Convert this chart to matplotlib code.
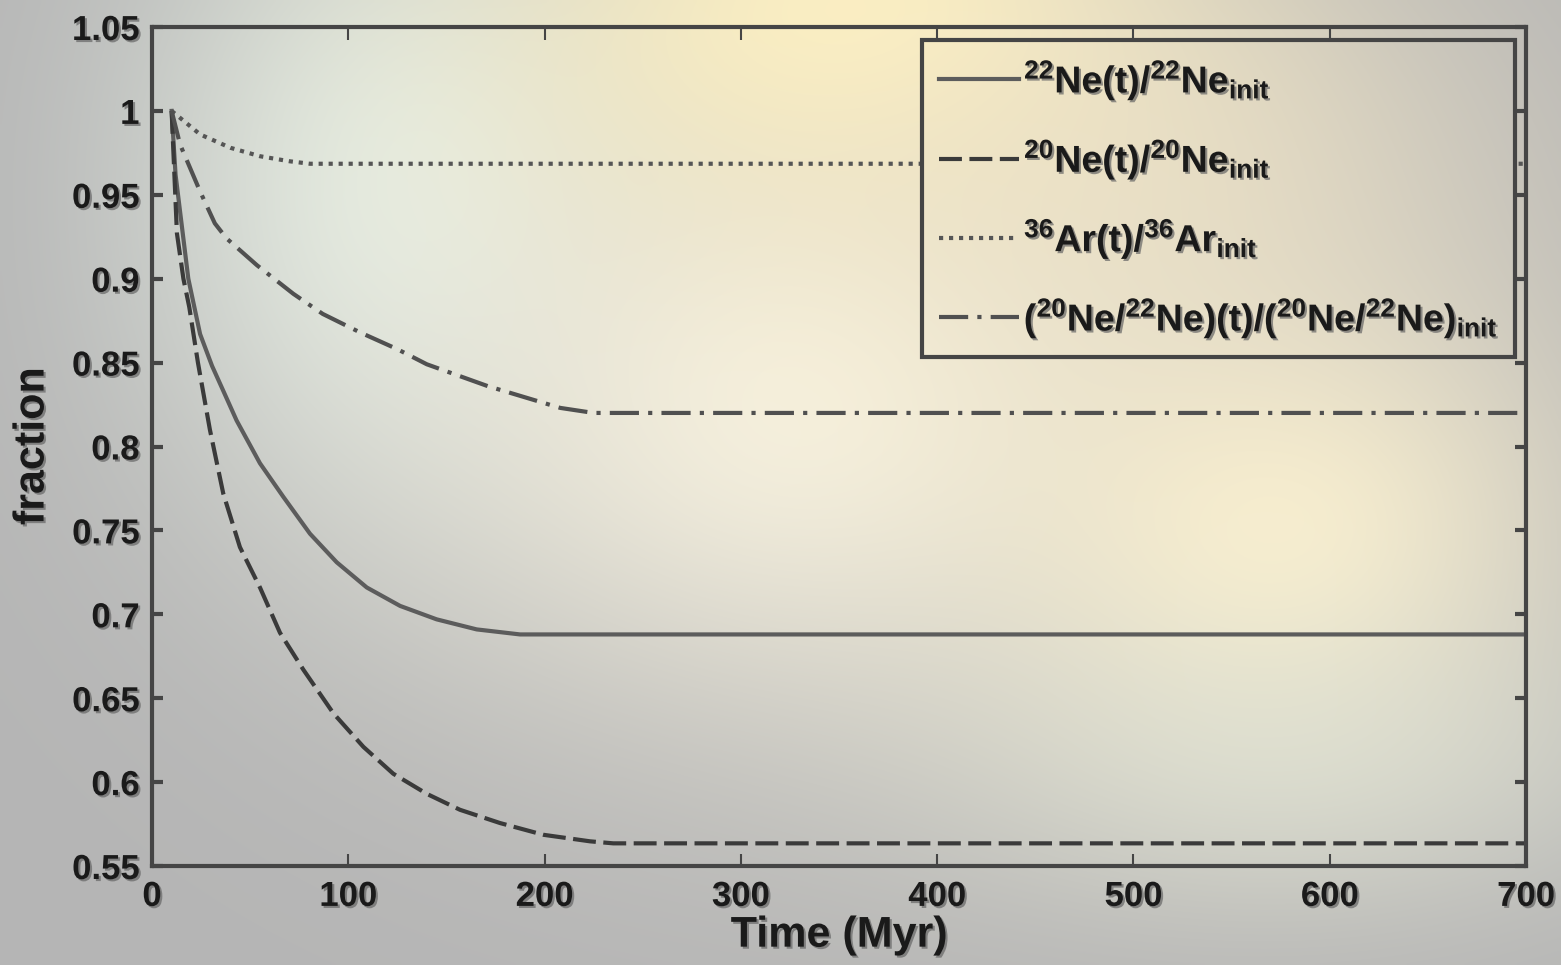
"""Depletion of Ne and Ar isotopes over time, fraction of initial inventory."""
import numpy as np
import matplotlib.pyplot as plt
import matplotlib.patheffects as pe


W, H = 1561, 965

# time (Myr) and fraction of initial value for each tracer
t_ne22 = [10, 12, 14.3, 18.5, 24.5, 30.6, 36, 43.1, 55, 66.9, 80.5, 94.1,
          109.4, 126.4, 145, 165.4, 187.5, 700]
ne22 = [1.0, 0.962, 0.940, 0.900, 0.867, 0.848, 0.834, 0.8155, 0.790, 0.770,
        0.748, 0.731, 0.716, 0.705, 0.697, 0.691, 0.688, 0.688]

t_ne20 = [10, 12.7, 16, 19, 23.4, 29.5, 36.3, 44.8, 55, 65.2, 77.1, 92.4,
          107.7, 122.9, 140, 156.9, 177.3, 199.4, 223.2, 235, 700]
ne20 = [1.0, 0.927, 0.900, 0.883, 0.850, 0.810, 0.772, 0.740, 0.716, 0.689,
        0.667, 0.641, 0.621, 0.605, 0.593, 0.5835, 0.5756, 0.5686, 0.5647,
        0.5635, 0.5635]

t_ar36 = [10, 24.5, 40, 55, 70, 80.5, 700]
ar36 = [1.0, 0.986, 0.978, 0.973, 0.970, 0.9685, 0.9685]

t_ratio = [10, 14.3, 24.5, 32, 38, 53.5, 72, 87, 106, 125, 140, 171, 208,
           225, 700]
ratio = [1.0, 0.980, 0.952, 0.933, 0.924, 0.908, 0.891, 0.879, 0.868, 0.858,
         0.849, 0.836, 0.823, 0.820, 0.820]

labels = [r'$^{22}$Ne(t)/$^{22}$Ne$_{\rm init}$',
          r'$^{20}$Ne(t)/$^{20}$Ne$_{\rm init}$',
          r'$^{36}$Ar(t)/$^{36}$Ar$_{\rm init}$',
          r'($^{20}$Ne/$^{22}$Ne)(t)/($^{20}$Ne/$^{22}$Ne)$_{\rm init}$']

xticks = [0, 100, 200, 300, 400, 500, 600, 700]
yticks = [0.55, 0.6, 0.65, 0.7, 0.75, 0.8, 0.85, 0.9, 0.95, 1.0, 1.05]
yticklabels = ['0.55', '0.6', '0.65', '0.7', '0.75', '0.8', '0.85', '0.9',
               '0.95', '1', '1.05']


def glow_background():
    """ gray backdrop with a few soft warm/white glows (RGB, rows top-down) """
    yy, xx = np.mgrid[0:H:4, 0:W:4].astype(float)
    img = np.ones(yy.shape + (3,)) * np.array([0.71, 0.71, 0.71])
    blobs = [  # cx, cy, sx, sy, amp, colour
        (400, 180, 190, 240, 0.9, (0.89, 0.93, 0.90)),
        (800, 400, 280, 230, 0.95, (0.97, 0.95, 0.88)),
        (860, 10, 260, 150, 0.95, (1.00, 0.95, 0.76)),
        (1280, 530, 220, 180, 0.9, (0.99, 0.95, 0.82)),
        (1150, 170, 260, 170, 0.6, (0.95, 0.90, 0.78)),
        (1300, 760, 250, 110, 0.5, (0.90, 0.92, 0.86)),
    ]
    for cx, cy, sx, sy, amp, col in blobs:
        w = amp*np.exp(-0.5*(((xx-cx)/sx)**2 + ((yy-cy)/sy)**2))
        img = img*(1 - w[..., None]) + np.array(col)*w[..., None]
    return np.clip(img, 0, 1)


plt.rcParams['font.family'] = ['Liberation Sans', 'DejaVu Sans']
plt.rcParams['font.weight'] = 'bold'
plt.rcParams['mathtext.fontset'] = 'custom'
plt.rcParams['mathtext.rm'] = 'Liberation Sans:bold'
plt.rcParams['mathtext.it'] = 'Liberation Sans:bold'
plt.rcParams['mathtext.bf'] = 'Liberation Sans:bold'

shadow = [pe.SimplePatchShadow(offset=(1.5, -1.5), shadow_rgbFace='#666666',
                               alpha=0.7), pe.Normal()]
dark = '#1a1a1a'
frame = '#454545'

grad = glow_background()

fig = plt.figure(figsize=(W/100, H/100), dpi=100)
bg = fig.add_axes([0, 0, 1, 1], zorder=-10)
bg.imshow(grad, extent=(0, W, 0, H), aspect='auto', interpolation='bilinear')
bg.set_xlim(0, W)
bg.set_ylim(0, H)
bg.axis('off')

ax = fig.add_axes([152/W, 1 - 866/H, (1526-152)/W, (866-27)/H], zorder=0)
ax.patch.set_visible(False)

l1, = ax.plot(t_ne22, ne22, '-', color='#5c5c5c', lw=3)
l2, = ax.plot(t_ne20, ne20, color='#3a3a3a', lw=3, ls=(0, (5.5, 1.8)))
l3, = ax.plot(t_ar36, ar36, color='#555555', lw=3, ls=(0, (1, 1.4)))
l4, = ax.plot(t_ratio, ratio, color='#505050', lw=3,
              ls=(0, (7, 2.2, 1, 2.2)))

ax.set_xlim(0, 700)
ax.set_ylim(0.55, 1.05)
ax.set_xticks(xticks)
ax.set_yticks(yticks)
ax.set_yticklabels(yticklabels)
for s in ax.spines.values():
    s.set_linewidth(3)
    s.set_color(frame)
ax.tick_params(axis='x', direction='in', top=True, length=9, width=1.5,
               color=frame, pad=10, labelsize=25, labelcolor=dark)
ax.tick_params(axis='y', direction='in', right=True, length=8, width=3,
               color=frame, pad=9, labelsize=25, labelcolor=dark)
for lab in ax.get_xticklabels() + ax.get_yticklabels():
    lab.set_fontweight('bold')
    lab.set_path_effects(shadow)

ax.set_xlabel('Time (Myr)', fontsize=31, fontweight='bold', color=dark,
              labelpad=2, path_effects=shadow)
ax.set_ylabel('fraction', fontsize=31, fontweight='bold', color=dark,
              labelpad=14, path_effects=shadow)

leg = fig.legend([l1, l2, l3, l4], labels, loc='upper right',
                 bbox_to_anchor=(1515/W, 1 - 40/H), fontsize=27,
                 handlelength=2.13, handletextpad=0.13, labelspacing=0.9,
                 borderpad=0.45, borderaxespad=0, fancybox=False,
                 facecolor='none', framealpha=1, edgecolor=frame)
leg.get_frame().set_linewidth(3)
for txt in leg.get_texts():
    txt.set_color(dark)
    txt.set_path_effects(shadow)

# repaint the backdrop under the legend so the curves stay hidden behind it
fig.canvas.draw()
bb = leg.get_frame().get_window_extent()
mask = fig.add_axes([bb.x0/W, bb.y0/H, bb.width/W, bb.height/H], zorder=1)
mask.imshow(grad, extent=(0, W, 0, H), aspect='auto', interpolation='bilinear')
mask.set_xlim(bb.x0, bb.x1)
mask.set_ylim(bb.y0, bb.y1)
mask.axis('off')

fig.savefig('out.png', dpi=100)
